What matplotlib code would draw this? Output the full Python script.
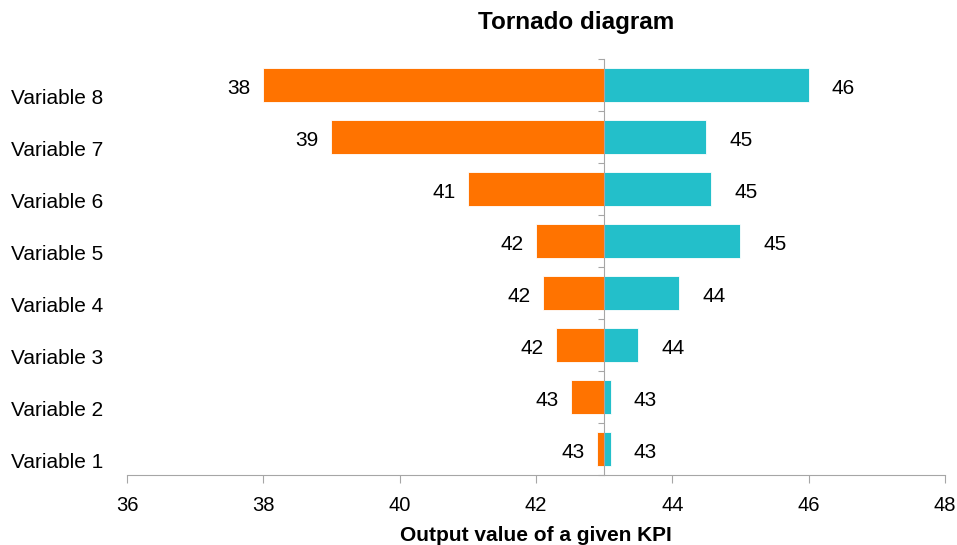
"""Tornado diagram"""

import numpy as np
import matplotlib.pyplot as plt
import matplotlib.transforms as mtransforms

# --------------------------------------------------
#   Data
# --------------------------------------------------

variables = [f"Variable {i}" for i in range(1, 9)]
low_values = [42.9, 42.52, 42.3, 42.1, 42.0, 41.0, 39.0, 38.0]
high_values = [43.1, 43.1, 43.5, 44.1, 45.0, 44.57, 44.5, 46.0]
base_value = 43
x_ticks = [36, 38, 40, 42, 44, 46, 48]

LOW_COLOR = "#FF7300"
HIGH_COLOR = "#23BFCA"
AXIS_COLOR = "#A6A6A6"

plt.rcParams['font.family'] = ['Liberation Sans', 'DejaVu Sans']


def fmt(v):
    return f"{int(np.floor(v + 0.5))}"


# --------------------------------------------------
#   Plot
# --------------------------------------------------

fig = plt.figure(figsize=(9.57, 5.45), dpi=100)
ax = fig.add_axes([127 / 957, 1 - 475 / 545, (945 - 127) / 957, (475 - 59) / 545])

y = np.arange(len(variables))
low = np.array(low_values)
high = np.array(high_values)

ax.barh(y, low - base_value, left=base_value, height=0.65,
        color=LOW_COLOR, edgecolor="white", linewidth=0.6, zorder=2)
ax.barh(y, high - base_value, left=base_value, height=0.65,
        color=HIGH_COLOR, edgecolor="white", linewidth=0.6, zorder=2)

for yi, lo, hi in zip(y, low, high):
    ax.annotate(fmt(lo), (lo, yi), xytext=(-9, -2.5), textcoords="offset points",
                ha="right", va="center", fontsize=15)
    ax.annotate(fmt(hi), (hi, yi), xytext=(16.5, -2.5), textcoords="offset points",
                ha="left", va="center", fontsize=15)

# center axis line with category separators
ax.spines['left'].set_position(('data', base_value))
ax.spines['left'].set_color(AXIS_COLOR)
ax.spines['left'].set_zorder(3)
ax.set_yticks(np.arange(-0.5, len(variables), 1.0))
ax.set_yticklabels([])
ax.tick_params(axis="y", direction="out", length=4, color=AXIS_COLOR)

# category labels at the far left
label_trans = mtransforms.blended_transform_factory(fig.transFigure, ax.transData)
label_trans = label_trans + mtransforms.ScaledTranslation(0, -14 / 100, fig.dpi_scale_trans)
for yi, name in zip(y, variables):
    ax.text(11 / 957, yi, name, transform=label_trans, ha="left", va="center", fontsize=15)

ax.set_xlim(x_ticks[0], x_ticks[-1])
ax.set_ylim(-0.5, len(variables) - 0.5)
ax.set_xticks(x_ticks)
ax.tick_params(axis="x", direction="out", length=6, color=AXIS_COLOR, labelsize=14.5, pad=9)
ax.spines['bottom'].set_color(AXIS_COLOR)
ax.spines['top'].set_visible(False)
ax.spines['right'].set_visible(False)

ax.set_xlabel("Output value of a given KPI", fontsize=15, fontweight="bold", labelpad=8)
fig.text(576 / 957, 1 - 23 / 545, "Tornado diagram", ha="center", va="center",
         fontsize=17.5, fontweight="bold")

fig.savefig("out.png", dpi=100)
